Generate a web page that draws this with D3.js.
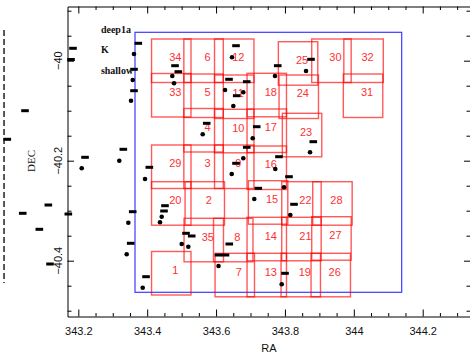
<!DOCTYPE html>
<html>
<head>
<meta charset="utf-8">
<script src="https://cdn.jsdelivr.net/npm/d3@7"></script>
<style>
  body { margin: 0; background: #fff; }
  svg { display: block; }
</style>
</head>
<body>
<svg id="chart" width="470" height="354"></svg>
<script>
// ---- Pointing fields (centre RA / DEC in degrees) ----
const fieldId  = [1, 2, 3, 4, 5, 6, 7, 8, 9, 10, 11, 12, 13, 14, 15, 16, 17, 18,
                  19, 20, 21, 22, 23, 24, 25, 26, 27, 28, 29, 30, 31, 32, 33, 34, 35];
const fieldRA  = [343.4699, 343.5672, 343.5637, 343.5637, 343.5637, 343.5637,
                  343.6543, 343.6499, 343.6528, 343.6528, 343.6528, 343.6528,
                  343.7472, 343.7472, 343.7510, 343.7472, 343.7472, 343.7472,
                  343.8459, 343.4699, 343.8479, 343.8479, 343.8497, 343.8401,
                  343.8381, 343.9330, 343.9350, 343.9379, 343.4699, 343.9350,
                  344.0268, 344.0283, 343.4699, 343.4699, 343.5643];
const fieldDEC = [-40.4251, -40.2855, -40.2121, -40.1391, -40.0701, -40.0001,
                  -40.4287, -40.3587, -40.2121, -40.1407, -40.0721, -40.0001,
                  -40.4287, -40.3567, -40.2835, -40.2141, -40.1401, -40.0687,
                  -40.4287, -40.2855, -40.3567, -40.2855, -40.1487, -40.0721,
                  -40.0055, -40.4287, -40.3555, -40.2855, -40.2121, -40.0001,
                  -40.0701, -40.0001, -40.0691, -40.0001, -40.3587];
// field of view of one pointing, degrees
const FIELD_W = 0.1145, FIELD_H = 0.087;

// ---- Survey outline ----
const surveyRA  = [343.3646, 344.1390];
const surveyDEC = [-39.9432, -40.4632];

// ---- Sources ----
const srcRA  = [343.3617, 343.3580, 343.3530, 343.6463, 343.4729, 343.4779, 343.7711,
                343.8612, 343.6260, 343.6791, 343.6501, 343.5612, 343.7064, 343.6791,
                343.6454, 343.7720, 343.8728, 343.7973, 343.7110, 343.8156, 343.3937,
                343.2099, 343.3190, 343.3452, 343.3405, 343.3870, 343.7906, 343.6071,
                343.5002, 343.5194, 343.4422, 343.4372];
const srcDEC = [-39.9866, -40.0386, -40.0800, -39.9932, -40.0306, -40.0452, -40.0306,
                -40.0206, -40.0586, -40.0632, -40.0906, -40.1472, -40.1552, -40.1952,
                -40.2266, -40.2166, -40.1832, -40.2532, -40.2766, -40.3086, -40.2366,
                -40.2152, -40.2000, -40.3240, -40.3872, -40.4540, -40.4472, -40.4106,
                -40.3666, -40.3720, -40.3120, -40.3232];

// ---- Source name tags ----
const tagRA  = [343.3742, 343.3617, 343.3617, 343.6579, 343.4808, 343.4904, 343.7790,
                343.8757, 343.6376, 343.6890, 343.6599, 343.5728, 343.7180, 343.6890,
                343.6579, 343.7827, 343.8823, 343.8118, 343.7226, 343.8263, 343.4062,
                343.2195, 343.3307, 343.3580, 343.3521, 343.3966, 343.8002, 343.6071,
                343.6274, 343.5127, 343.5293, 343.4517, 343.4488, 343.6384, 343.0452,
                342.9938, 343.1129, 343.0386, 343.0868, 343.1178, 343.1710, 343.1846,
                343.1788];
const tagDEC = [-39.9652, -40.0172, -40.0600, -39.9700, -40.0100, -40.0220, -40.0100,
                -39.9972, -40.0372, -40.0420, -40.0700, -40.1252, -40.1320, -40.1732,
                -40.2052, -40.1920, -40.1620, -40.2320, -40.2552, -40.2872, -40.2132,
                -40.1932, -40.1772, -40.3020, -40.3652, -40.4320, -40.4252, -40.3886,
                -40.3886, -40.3452, -40.3506, -40.2900, -40.3006, -40.3666, -40.1000,
                -40.1572, -40.2886, -40.3052, -40.3372, -40.4066, -40.3066, -39.9752,
                -39.9976];

// ---- Dashed marker line at the far left ----
const edgeRA  = 342.9843;
const edgeDEC = [-39.9386, -40.4446];

// ---- Key text ----
const keyText = ["deep1a", "K", "shallow"];
const keyDEC  = [-39.9376, -39.9776, -40.0186];
const keyRA   = 343.2656;

// ---- Axis ticks ----
const raTicks  = [343.2, 343.4, 343.6, 343.8, 344, 344.2];
const decTicks = [-40, -40.2, -40.4];

const svg = d3.select("#chart");

const x = d3.scaleLinear().domain([343.1686, 344.3388]).range([67.5, 470.5]);
const y = d3.scaleLinear().domain([-39.8916, -40.5116]).range([6.5, 316.5]);

const raMinor  = d3.range(0, 23).map(i => +(343.2 + i * 0.05).toFixed(2)).filter(v => v <= 344.33);
const decMinor = d3.range(0, 13).map(i => +(-39.9 - i * 0.05).toFixed(2));

const fmt = d3.format("~g");

// survey outline
svg.append("rect")
  .attr("x", x(surveyRA[0])).attr("y", y(surveyDEC[0]))
  .attr("width", x(surveyRA[1]) - x(surveyRA[0]))
  .attr("height", y(surveyDEC[1]) - y(surveyDEC[0]))
  .attr("fill", "none").attr("stroke", "#3b3bff").attr("stroke-width", 1.2);

// pointings
const fields = fieldId.map((id, i) => ({ id, ra: fieldRA[i], dec: fieldDEC[i] }));
const fw = x(FIELD_W) - x(0), fh = y(-FIELD_H) - y(0);
svg.append("g").selectAll("rect").data(fields).join("rect")
  .attr("x", d => x(d.ra) - fw / 2)
  .attr("y", d => y(d.dec) - fh / 2)
  .attr("width", fw).attr("height", fh)
  .attr("fill", "none").attr("stroke", "#ff0000")
  .attr("stroke-opacity", 0.65).attr("stroke-width", 1.4);

svg.append("g").selectAll("text").data(fields).join("text")
  .attr("x", d => x(d.ra) + 4)
  .attr("y", d => y(d.dec) - 3.5)
  .attr("text-anchor", "middle").attr("dominant-baseline", "central")
  .attr("font-family", "'Liberation Sans', Arial, sans-serif").attr("font-size", 11)
  .attr("fill", "#ff3030")
  .text(d => d.id);

// sources
svg.append("g").selectAll("circle").data(srcRA.map((r, i) => [r, srcDEC[i]])).join("circle")
  .attr("cx", d => x(d[0])).attr("cy", d => y(d[1])).attr("r", 2.3).attr("fill", "#000");

svg.append("g").selectAll("rect").data(tagRA.map((r, i) => [r, tagDEC[i]])).join("rect")
  .attr("x", d => x(d[0]) - 3.8).attr("y", d => y(d[1]) - 1.5)
  .attr("width", 7.6).attr("height", 3).attr("fill", "#000");

// dashed marker line
svg.append("line")
  .attr("x1", x(edgeRA)).attr("x2", x(edgeRA))
  .attr("y1", y(edgeDEC[0])).attr("y2", y(edgeDEC[1]))
  .attr("stroke", "#000").attr("stroke-width", 1.3).attr("stroke-dasharray", "6,3");

// key text
svg.append("g").selectAll("text").data(keyText).join("text")
  .attr("x", x(keyRA)).attr("y", (d, i) => y(keyDEC[i]))
  .attr("dominant-baseline", "central")
  .attr("font-family", "'Liberation Serif', 'DejaVu Serif', serif")
  .attr("font-weight", "bold").attr("font-size", 10)
  .attr("fill", "#111")
  .text(d => d);

// axes (ticks pointing inward on all four sides)
function styleAxis(g) {
  g.selectAll("path.domain").attr("stroke", "#000").attr("stroke-width", 1);
  g.selectAll(".tick line").attr("stroke", "#000").attr("stroke-width", 1);
  g.attr("font-family", "'Liberation Sans', Arial, sans-serif").attr("font-size", 11);
}
const [x0, x1] = x.range(), [y0, y1] = y.range();

svg.append("g").attr("transform", `translate(0,${y1})`)
  .call(d3.axisBottom(x).tickValues(raTicks).tickSize(-7).tickSizeOuter(0)
        .tickPadding(11).tickFormat(fmt))
  .call(styleAxis)
  .call(g => g.selectAll("text").attr("fill", "#111"));
svg.append("g").attr("transform", `translate(0,${y1})`)
  .call(d3.axisBottom(x).tickValues(raMinor.filter(v => !raTicks.includes(v)))
        .tickSize(-3.5).tickSizeOuter(0).tickFormat(""))
  .call(styleAxis).call(g => g.select(".domain").remove());

svg.append("g").attr("transform", `translate(0,${y0})`)
  .call(d3.axisTop(x).tickValues(raTicks).tickSize(-7).tickSizeOuter(0).tickFormat(""))
  .call(styleAxis);
svg.append("g").attr("transform", `translate(0,${y0})`)
  .call(d3.axisTop(x).tickValues(raMinor.filter(v => !raTicks.includes(v)))
        .tickSize(-3.5).tickSizeOuter(0).tickFormat(""))
  .call(styleAxis).call(g => g.select(".domain").remove());

svg.append("g").attr("transform", `translate(${x0},0)`)
  .call(d3.axisLeft(y).tickValues(decTicks).tickSize(-6.5).tickSizeOuter(0).tickFormat(""))
  .call(styleAxis);
svg.append("g").attr("transform", `translate(${x0},0)`)
  .call(d3.axisLeft(y).tickValues(decMinor.filter(v => !decTicks.includes(v)))
        .tickSize(-4).tickSizeOuter(0).tickFormat(""))
  .call(styleAxis).call(g => g.select(".domain").remove());

svg.append("g").attr("transform", `translate(${x1},0)`)
  .call(d3.axisRight(y).tickValues(decTicks).tickSize(-6.5).tickSizeOuter(0).tickFormat(""))
  .call(styleAxis);
svg.append("g").attr("transform", `translate(${x1},0)`)
  .call(d3.axisRight(y).tickValues(decMinor.filter(v => !decTicks.includes(v)))
        .tickSize(-4).tickSizeOuter(0).tickFormat(""))
  .call(styleAxis).call(g => g.select(".domain").remove());

// rotated DEC tick labels
svg.append("g").selectAll("text").data(decTicks).join("text")
  .attr("transform", d => `translate(61.5,${y(d)}) rotate(-90)`)
  .attr("text-anchor", "middle")
  .attr("font-family", "'Liberation Sans', Arial, sans-serif").attr("font-size", 11)
  .attr("fill", "#111")
  .text(fmt);

// axis titles
svg.append("text")
  .attr("x", (x0 + x1) / 2).attr("y", 351.5).attr("text-anchor", "middle")
  .attr("font-family", "'Liberation Sans', Arial, sans-serif").attr("font-size", 11)
  .attr("fill", "#111").text("RA");
svg.append("text")
  .attr("transform", "translate(34.5,161) rotate(-90)").attr("text-anchor", "middle")
  .attr("font-family", "'Liberation Serif', 'DejaVu Serif', serif").attr("font-size", 11)
  .attr("fill", "#111").text("DEC");
</script>
</body>
</html>
